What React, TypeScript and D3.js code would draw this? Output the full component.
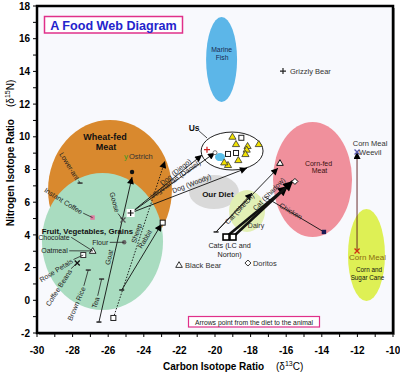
import React from 'react';
import * as d3 from 'd3';

const FONT = '"Liberation Sans", Arial, sans-serif';

// axis values (δ13C across, δ15N up)
const xTicks = [-30, -28, -26, -24, -22, -20, -18, -16, -14, -12, -10];
const yTicks = [-2, 0, 2, 4, 6, 8, 10, 12, 14, 16, 18];

// diet zones: centre + half spread in isotope units
const zones = [
  { name: 'Wheat-fed Meat', c: -25.9, n: 6.75, sc: 3.48, sn: 4.28 },
  { name: 'Fruit, Vegetables, Grains', c: -26.32, n: 3.6, sc: 3.4, sn: 4.19 },
  { name: 'Marine Fish', c: -19.63, n: 14.73, sc: 0.87, sn: 2.6 },
  { name: 'Corn-fed Meat', c: -14.52, n: 7.39, sc: 2.22, sn: 3.52 },
  { name: 'Corn and Sugar Cane', c: -11.49, n: 2.77, sc: 1.04, sn: 2.81 },
  { name: 'Our Diet', c: -20.06, n: 6.62, sc: 1.4, sn: 1.04 },
  { name: 'Dairy', c: -18.2, n: 5.46, sc: 1.01, sn: 1.28 },
  { name: 'Us', c: -19.04, n: 9.13, sc: 1.74, sn: 1.16 },
];

// single samples
const foods = [
  { name: 'Lower-ant', c: -27.58, n: 7.17 },
  { name: 'Instant Coffee', c: -26.88, n: 5.06 },
  { name: 'Chocolate', c: -26.87, n: 3.02 },
  { name: 'Oatmeal', c: -26.87, n: 3.02 },
  { name: 'Rose Petals', c: -27.4, n: 2.77 },
  { name: 'Coffee Beans', c: -27.74, n: 2.28 },
  { name: 'Brown Rice', c: -27.12, n: 1.85 },
  { name: 'Tea', c: -26.37, n: 1.3 },
  { name: 'Flour', c: -25.1, n: 3.55 },
  { name: 'Goose', c: -25.17, n: 4.91 },
  { name: 'Ostrich', c: -25.0, n: 8.83 },
  { name: 'Grizzly Bear', c: -16.18, n: 14.02 },
  { name: 'Black Bear', c: -22.02, n: 2.16 },
  { name: 'Doritos', c: -18.15, n: 2.28 },
  { name: 'Chicken', c: -13.88, n: 4.18 },
  { name: 'Corn Meal', c: -12.02, n: 3.02 },
  { name: 'Corn Meal Weevil', c: -12.02, n: 9.07 },
];

// hair samples inside "Us"
const usTriangles = [
  [-19.02, 10.01], [-18.82, 9.56], [-18.17, 9.44], [-18.22, 9.22], [-17.54, 9.56],
  [-18.29, 8.95], [-18.69, 8.58], [-19.27, 8.28], [-19.48, 8.44],
];
const usSquares = [[-18.52, 9.94], [-19.27, 8.95], [-18.82, 9.01]];
const usCross = [-20.45, 9.21];
const usCircle = [-20.0, 9.03];
const usBlob = [-19.72, 8.76];

// arrows: diet -> animal
const feeds = [
  { name: 'Goat', from: [-26.52, -1.33], to: [-24.66, 7.54] },
  { name: 'Sheep', from: [-25.71, -1.08], to: [-22.81, 8.52] },
  { name: 'Rabbit', from: [-25.24, 0.63], to: [-23.0, 4.67] },
  { name: 'Dog (Diego)', from: [-24.74, 5.34], to: [-20.73, 8.89] },
  { name: 'Vegetarian (Daniel)', from: [-24.74, 5.34], to: [-20.0, 9.03] },
  { name: 'Dog (Woody)', from: [-24.74, 5.34], to: [-18.2, 8.09] },
  { name: 'Cat (Sketch)', from: [-19.94, 4.18], to: [-17.92, 6.56] },
  { name: 'Cat (Shadow)', from: [-19.94, 4.18], to: [-16.46, 8.09] },
  { name: 'Cat (LC)', from: [-19.38, 3.87], to: [-15.9, 6.99] },
  { name: 'Cat (Norton)', from: [-18.99, 3.87], to: [-15.62, 7.3] },
  { name: 'Chicken', from: [-17.19, 6.32], to: [-13.88, 4.18] },
  { name: 'Corn Meal Weevil', from: [-12.02, 3.02], to: [-12.02, 9.07] },
];
const animalMarks = [
  { name: 'Goat', c: -24.66, n: 7.85 },
  { name: 'Rabbit', c: -22.94, n: 4.75 },
  { name: 'Cat (Shadow)', c: -16.35, n: 8.4 },
  { name: 'Cat (Norton)', c: -15.51, n: 7.27 },
];
const catFood = [[-19.38, 3.87], [-18.99, 3.87]];
const dogFood = [-24.74, 5.34];

// ---- styling ----
const zoneStyle: any = {
  'Wheat-fed Meat': { fill: '#d9892e', lines: [['Wheat-fed', -5, -49.5], ['Meat', -4, -40]], size: 9, bold: true },
  'Fruit, Vegetables, Grains': { fill: '#a9dcc0', lines: [['Fruit, Vegetables, Grains', -60.8, -7.5]], size: 7.8, bold: true, anchor: 'start' },
  'Marine Fish': { fill: '#5cb6e8', lines: [['Marine', 0, -7.5], ['Fish', 0.5, 1]], size: 6.8, color: '#1a2a50' },
  'Corn-fed Meat': { fill: '#f0909c', lines: [['Corn-fed', 6, -13], ['Meat', 7, -6]], size: 7, color: '#3a1010' },
  'Corn and Sugar Cane': { fill: '#def055', lines: [['Corn and', 2.5, 17], ['Sugar Cane', 1, 24.5]], size: 6.3, color: '#111' },
  'Our Diet': { fill: '#d9d9d9', lines: [['Our Diet', 4, 4.5]], size: 8, bold: true },
  'Dairy': { fill: '#e2efb5', lines: [['Dairy', 9, 17]], size: 7, color: '#333' },
  'Us': { fill: '#ffffff', stroke: '#222', lines: [['Us', -38, -20.5]], size: 8.5, bold: true },
};

const foodMark: any = {
  'Lower-ant': ['dash', '#333'], 'Instant Coffee': ['fsq', '#e07aa0'], 'Chocolate': ['tri', '#222'],
  'Rose Petals': ['sq', '#333'], 'Coffee Beans': ['x', '#111'], 'Brown Rice': ['dash', '#333'],
  'Tea': ['dash', '#333'], 'Flour': ['dot', '#666'], 'Goose': ['x', '#555'], 'Ostrich': ['y', '#3a9a20'],
  'Grizzly Bear': ['plus', '#222'], 'Black Bear': ['tri', '#333'], 'Doritos': ['diamond', '#333'],
  'Chicken': ['fsq', '#1a1a55'], 'Corn Meal': ['x', '#d03010'], 'Corn Meal Weevil': ['x', '#5a5ab0'],
};

// label that ends next to its sample (anchor end), with a short leader
const leaderLabels: any = {
  'Lower-ant': { ang: 58, gap: [-4.5, -2.4] },
  'Instant Coffee': { ang: 32, gap: [-12, -3] },
  'Chocolate': { ang: 0, gap: [-23, -11] },
  'Oatmeal': { ang: 0, gap: [-25, 2.5] },
  'Rose Petals': { ang: -32, gap: [-9.7, 7.5] },
  'Coffee Beans': { ang: -57, gap: [-4.8, 8.3] },
  'Brown Rice': { ang: -67, gap: [-2.6, 18.2] },
  'Tea': { ang: -72, gap: [-1.9, 19] },
  'Flour': { ang: 0, gap: [-16, 2.7] },
  'Goose': { ang: 74, gap: [-7.9, -7.2] },
};
// label that starts beside its sample
const sideLabels: any = {
  'Ostrich': [[ 'Ostrich', 3, 3 ]],
  'Grizzly Bear': [['Grizzly Bear', 7, 2.5]],
  'Black Bear': [['Black Bear', 6, 3.5]],
  'Doritos': [['Doritos', 5, 3]],
  'Corn Meal': [['Corn Meal', -8, 9.5]],
  'Corn Meal Weevil': [['Corn Meal', -4.3, -6], ['Weevil', 2, 2.5]],
};
const sideColor: any = { 'Corn Meal': '#8a6a10' };

const feedStyle: any = {
  'Goat': { from: 'dash' },
  'Sheep': { dash: '1.5 1.5', from: 'sq' },
  'Rabbit': { from: 'dash' },
  'Cat (Sketch)': { from: 'dash' },
  'Cat (LC)': { width: 2.6, big: true },
  'Cat (Norton)': { width: 2.6, big: true },
  'Chicken': { head: false },
  'Corn Meal Weevil': { color: '#5a1a1a' },
};
const feedLabels: any = {
  'Goat': { t: 0.44, off: 2 },
  'Sheep': { t: 0.53, off: 2 },
  'Rabbit': { t: 0.72, off: 4 },
  'Dog (Diego)': { t: 0.66, off: 1 },
  'Vegetarian (Daniel)': { t: 0.54, off: -1 },
  'Dog (Woody)': { t: 0.54, off: 3 },
  'Cat (Sketch)': { t: 0.62, off: -4 },
  'Cat (Shadow)': { t: 0.72, off: -14 },
  'Chicken': { t: 0.43, off: -1.5 },
};

function mark(shape: string, cx: number, cy: number, key: string, color = '#222') {
  switch (shape) {
    case 'plus':
      return <path key={key} d={`M${cx - 3},${cy}H${cx + 3}M${cx},${cy - 3}V${cy + 3}`} stroke={color} strokeWidth={1.2} />;
    case 'x':
      return <path key={key} d={`M${cx - 2.5},${cy - 2.5}L${cx + 2.5},${cy + 2.5}M${cx - 2.5},${cy + 2.5}L${cx + 2.5},${cy - 2.5}`} stroke={color} strokeWidth={1.3} />;
    case 'tri':
      return <path key={key} d={`M${cx},${cy - 3.3}L${cx + 3.3},${cy + 2.4}L${cx - 3.3},${cy + 2.4}Z`} fill="#fff" stroke={color} strokeWidth={1} />;
    case 'ytri':
      return <path key={key} d={`M${cx},${cy - 3.5}L${cx + 3.6},${cy + 2.6}L${cx - 3.6},${cy + 2.6}Z`} fill="#f2e200" stroke="#333" strokeWidth={0.8} />;
    case 'sq':
      return <rect key={key} x={cx - 2.5} y={cy - 2.5} width={5} height={5} fill="#fff" stroke={color} strokeWidth={1} />;
    case 'bsq':
      return <rect key={key} x={cx - 3} y={cy - 3} width={6} height={6} fill="#fff" stroke="#000" strokeWidth={1.6} />;
    case 'fsq':
      return <rect key={key} x={cx - 2.2} y={cy - 2.2} width={4.4} height={4.4} fill={color} />;
    case 'dash':
      return <path key={key} d={`M${cx - 2.5},${cy}H${cx + 2.5}`} stroke={color} strokeWidth={1.5} />;
    case 'dot':
      return <circle key={key} cx={cx} cy={cy} r={2.2} fill={color} />;
    case 'diamond':
      return <path key={key} d={`M${cx},${cy - 3}L${cx + 3},${cy}L${cx},${cy + 3}L${cx - 3},${cy}Z`} fill="#fff" stroke={color} strokeWidth={1} />;
    case 'circle':
      return <circle key={key} cx={cx} cy={cy} r={2} fill="#fff" stroke={color} strokeWidth={0.8} />;
    case 'y':
      return <text key={key} x={cx} y={cy + 3} fontSize={8} fill={color} textAnchor="middle" fontFamily={FONT}>y</text>;
    default:
      return null;
  }
}

export default function App() {
  const x = d3.scaleLinear().domain([-30, -10]).range([37, 393]);
  const y = d3.scaleLinear().domain([-2, 18]).range([333, 6]);
  const kx = x(1) - x(0);
  const ky = y(0) - y(1);
  const [x0, x1] = x.range();
  const [yb, yt] = y.range();
  const minorX = d3.range(-30, -9, 1);
  const minorY = d3.range(-2, 19, 1);
  const foodPos = new Map(foods.map(f => [f.name, [x(f.c), y(f.n)]]));

  const alongLabel = (p0: number[], p1: number[], t: number, off: number, text: string, key: string) => {
    let ux = p1[0] - p0[0];
    let uy = p1[1] - p0[1];
    const len = Math.hypot(ux, uy);
    ux /= len; uy /= len;
    if (ux < 0) { ux = -ux; uy = -uy; }
    const ax = uy, ay = -ux;
    const px = p0[0] + (p1[0] - p0[0]) * t + ax * off;
    const py = p0[1] + (p1[1] - p0[1]) * t + ay * off;
    const ang = Math.atan2(uy, ux) * 180 / Math.PI;
    return (
      <text key={key} transform={`translate(${px},${py}) rotate(${ang})`} textAnchor="middle"
        fontSize={7} fill="#222" fontFamily={FONT}>{text}</text>
    );
  };

  return (
    <div style={{ position: 'absolute', left: 0, top: 0, background: '#fff' }}>
      <svg width={400} height={375} viewBox="0 0 400 375" fontFamily={FONT}>
        <defs>
          <marker id="ah" viewBox="0 0 10 10" refX={10} refY={5} markerWidth={9} markerHeight={7}
            markerUnits="userSpaceOnUse" orient="auto">
            <path d="M0,0L10,5L0,10Z" fill="#000" />
          </marker>
          <marker id="ahBig" viewBox="0 0 10 10" refX={10} refY={5} markerWidth={13} markerHeight={10}
            markerUnits="userSpaceOnUse" orient="auto">
            <path d="M0,0L10,5L0,10Z" fill="#000" />
          </marker>
        </defs>
        <rect x={0} y={0} width={400} height={375} fill="#fff" />

        {/* frame */}
        <rect x={x0 + 2} y={yt + 2} width={x1 - x0} height={yb - yt} fill="#9a9a9a" />
        <rect x={x0} y={yt} width={x1 - x0} height={yb - yt} fill="#f8f9fd" />

        {/* diet zones */}
        {zones.map(z => {
          const st = zoneStyle[z.name];
          return (
            <ellipse key={z.name} cx={x(z.c)} cy={y(z.n)} rx={z.sc * kx} ry={z.sn * ky}
              fill={st.fill} stroke={st.stroke || 'none'} strokeWidth={1} />
          );
        })}
        {usSquares.length && (
          <ellipse cx={x(usBlob[0])} cy={y(usBlob[1])} rx={5} ry={4} fill="#5ac0ea" />
        )}
        {zones.map(z => {
          const st = zoneStyle[z.name];
          return st.lines.map((l: any, i: number) => (
            <text key={z.name + i} x={x(z.c) + l[1]} y={y(z.n) + l[2]} fontSize={st.size}
              fontWeight={st.bold ? 'bold' : 'normal'} fill={st.color || '#111'}
              textAnchor={st.anchor || 'middle'}>{l[0]}</text>
          ));
        })}
        {/* Us leader */}
        <line x1={x(-19.04) - 33} y1={y(9.13) - 20} x2={x(-19.04) - 25} y2={y(9.13) - 13} stroke="#222" strokeWidth={0.8} />

        {/* feeding arrows */}
        {feeds.map(f => {
          const st = feedStyle[f.name] || {};
          const head = st.head === false ? undefined : (st.big ? 'url(#ahBig)' : 'url(#ah)');
          return (
            <line key={f.name} x1={x(f.from[0])} y1={y(f.from[1])} x2={x(f.to[0])} y2={y(f.to[1])}
              stroke={st.color || '#111'} strokeWidth={st.width || 0.9} strokeDasharray={st.dash}
              markerEnd={head} />
          );
        })}
        {feeds.map(f => {
          const st = feedStyle[f.name] || {};
          return st.from ? mark(st.from, x(f.from[0]), y(f.from[1]), 'fm' + f.name, '#222') : null;
        })}
        {animalMarks.map(a => {
          const shape = a.name === 'Goat' ? 'dot' : a.name === 'Rabbit' ? 'sq' : a.name === 'Cat (Shadow)' ? 'tri' : 'diamond';
          return mark(shape, x(a.c), y(a.n), 'am' + a.name, '#111');
        })}
        {feeds.map(f => {
          const lb = feedLabels[f.name];
          if (!lb) return null;
          return alongLabel([x(f.from[0]), y(f.from[1])], [x(f.to[0]), y(f.to[1])], lb.t, lb.off, f.name, 'fl' + f.name);
        })}

        {/* dog food and cat food */}
        <rect x={x(dogFood[0]) - 4} y={y(dogFood[1]) - 4} width={8} height={8} fill="#fff" />
        {mark('plus', x(dogFood[0]), y(dogFood[1]), 'dogfood', '#111')}
        {catFood.map((c, i) => mark('bsq', x(c[0]), y(c[1]), 'cf' + i))}
        <text x={x(-19.18)} y={y(3.87) + 11} fontSize={7.2} fill="#222" textAnchor="middle">Cats (LC and</text>
        <text x={x(-19.18)} y={y(3.87) + 20} fontSize={7.2} fill="#222" textAnchor="middle">Norton)</text>

        {/* hair samples */}
        {usTriangles.map((p, i) => mark('ytri', x(p[0]), y(p[1]), 'ut' + i))}
        {usSquares.map((p, i) => mark('sq', x(p[0]), y(p[1]), 'us' + i, '#222'))}
        {mark('plus', x(usCross[0]), y(usCross[1]), 'ucross', '#d02020')}
        {mark('circle', x(usCircle[0]), y(usCircle[1]), 'ucirc', '#555')}

        {/* foods */}
        {foods.map(f => {
          const m = foodMark[f.name];
          if (!m) return null;
          return mark(m[0], x(f.c), y(f.n), 'food' + f.name, m[1]);
        })}
        {foods.map(f => {
          const lb = leaderLabels[f.name];
          if (!lb) return null;
          const [px, py] = foodPos.get(f.name) as number[];
          const ax = px + lb.gap[0], ay = py + lb.gap[1];
          const r = lb.ang * Math.PI / 180;
          const lx = ax + 1.5 * Math.cos(r) + 2.6 * Math.sin(r);
          const ly = ay + 1.5 * Math.sin(r) - 2.6 * Math.cos(r);
          return (
            <g key={'ll' + f.name}>
              <line x1={lx} y1={ly} x2={px} y2={py} stroke="#222" strokeWidth={0.8} />
              <text transform={`translate(${ax},${ay}) rotate(${lb.ang})`} textAnchor="end" fontSize={7}
                fill="#222">{f.name}</text>
            </g>
          );
        })}
        {foods.map(f => {
          const lb = sideLabels[f.name];
          if (!lb) return null;
          const [px, py] = foodPos.get(f.name) as number[];
          return lb.map((l: any, i: number) => (
            <text key={'sl' + f.name + i} x={px + l[1]} y={py + l[2]} fontSize={f.name === 'Corn Meal' ? 8 : 7.5}
              fill={sideColor[f.name] || '#333'}>{l[0]}</text>
          ));
        })}

        {/* frame border */}
        <rect x={x0} y={yt} width={x1 - x0} height={yb - yt} fill="none" stroke="#000" strokeWidth={2.5} />

        {/* axes */}
        {minorY.map(v => (
          <line key={'ty' + v} x1={x0 - 4} x2={x0} y1={y(v)} y2={y(v)} stroke="#000" strokeWidth={1} />
        ))}
        {minorX.map(v => (
          <line key={'tx' + v} x1={x(v)} x2={x(v)} y1={yb} y2={yb + 4} stroke="#000" strokeWidth={1} />
        ))}
        {yTicks.map(v => (
          <text key={'ly' + v} x={30} y={y(v) + 3.6} fontSize={10} fontWeight="bold" textAnchor="end" fill="#000">{v}</text>
        ))}
        {xTicks.map(v => (
          <text key={'lx' + v} x={x(v)} y={354} fontSize={10} fontWeight="bold" textAnchor="middle" fill="#000">{v}</text>
        ))}
        <text x={163} y={369.5} fontSize={10} fontWeight="bold" fill="#000">Carbon Isotope Ratio</text>
        <text x={276} y={369.5} fontSize={10} fill="#000">(δ<tspan dy={-3.5} fontSize={7}>13</tspan><tspan dy={3.5}>C)</tspan></text>
        <text transform="translate(13.5,153) rotate(-90)" textAnchor="middle" fontSize={10} fill="#000">
          <tspan fontWeight="bold">Nitrogen Isotope Ratio</tspan>
          <tspan dx={12}>(δ</tspan><tspan dy={-3.5} fontSize={7}>15</tspan><tspan dy={3.5}>N)</tspan>
        </text>

        {/* title */}
        <rect x={44.5} y={16.5} width={138} height={16.5} fill="#fff" stroke="#e0308a" strokeWidth={1.5} />
        <text x={113.5} y={29.5} fontSize={12.6} fontWeight="bold" fill="#2424cc" textAnchor="middle">A Food Web Diagram</text>

        {/* note */}
        <rect x={188.5} y={316.5} width={131} height={10.5} fill="#fff" stroke="#e0308a" strokeWidth={1.2} />
        <text x={254} y={324.5} fontSize={6.8} fill="#222" textAnchor="middle">Arrows point from the diet to the animal</text>
      </svg>
    </div>
  );
}
